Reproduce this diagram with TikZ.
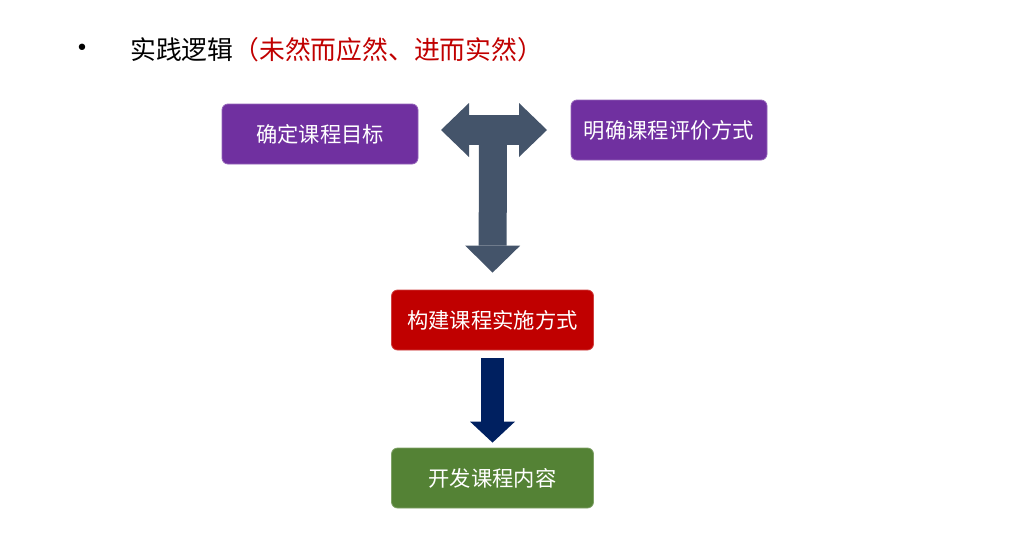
\documentclass[tikz,border=0pt]{standalone}
\usepackage{fontspec}
\setmainfont{Noto Sans CJK SC}
\newfontfamily\bulletfont{DejaVu Sans}
\usetikzlibrary{arrows.meta}
\definecolor{goalpurple}{HTML}{7030A0}
\definecolor{implred}{HTML}{C00000}
\definecolor{contentgreen}{HTML}{548235}
\definecolor{teeslate}{HTML}{44546A}
\definecolor{downnavy}{HTML}{002060}
\definecolor{titlered}{HTML}{C00000}
\begin{document}
\begin{tikzpicture}[x=1pt,y=-1pt,
    box/.style={rounded corners=6pt, minimum height=60pt, inner sep=0pt,
      text=white, font=\fontsize{21.3}{25}\selectfont,
      fill=#1, draw=#1!75!white, line width=0.8pt},
    fattip/.style 2 args={-{Triangle[width=#1,length=#2,line width=0pt]}}]
      % \draw[help lines](0,0) grid[step=50] (1024,546);
      \useasboundingbox (0,0) rectangle (1024,546);

      \draw (82,50) node (bullet) {\bulletfont\fontsize{22}{24}\selectfont •};
      \draw (130,50) node[anchor=west,inner sep=0pt,font=\fontsize{25.8}{30}\selectfont] (title)
        {实践逻辑\textcolor{titlered}{（未然而应然、进而实然）}};

      \draw (320,134) node[box=goalpurple,minimum width=196pt] (goal) {确定课程目标};
      \draw (669,130) node[box=goalpurple,minimum width=196pt] (eval) {明确课程评价方式};
      \draw (492.5,320) node[box=implred,minimum width=202pt] (impl) {构建课程实施方式};
      \draw (492.5,478) node[box=contentgreen,minimum width=202pt] (content) {开发课程内容};

      \coordinate (tee) at (493,130);
      \coordinate (teeleft) at (441,130);
      \coordinate (teeright) at (547,130);

      \draw[teeslate,line width=30pt,
        {Triangle[width=54pt,length=28pt,line width=0pt]}-{Triangle[width=54pt,length=28pt,line width=0pt]}]
        (teeleft) -- (teeright);
      \draw[teeslate,line width=28pt,fattip={55pt}{27pt},shorten >=17pt] (tee) -- (impl.north);
      \draw[downnavy,line width=23pt,fattip={45pt}{21pt},shorten <=8pt,shorten >=5pt] (impl) -- (content);
    \end{tikzpicture}
\end{document}
